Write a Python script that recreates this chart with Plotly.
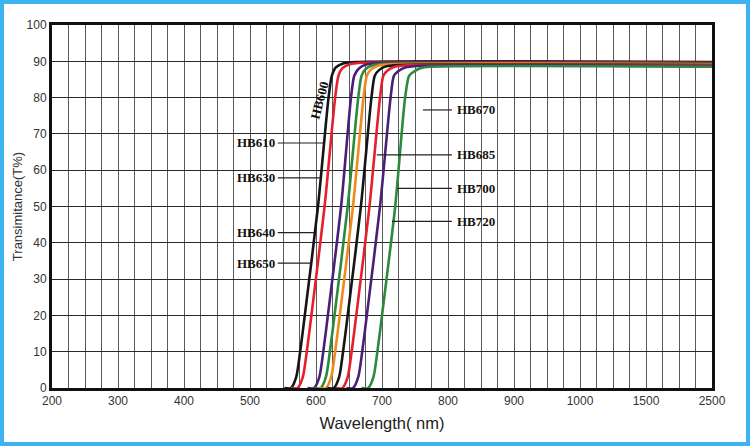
import numpy as np
import plotly.graph_objects as go

# x axis: evenly spaced ticks, not a linear nm scale past 1000
tick_nm = [200, 300, 400, 500, 600, 700, 800, 900, 1000, 1500, 2500]
tick_labels = [str(v) for v in tick_nm]

# transmittance levels shared by every curve (flat foot, then the rise)
levels_low = [0, 0, 3, 10, 20, 50, 80, 86]

names = ["HB600", "HB610", "HB630", "HB640", "HB650", "HB670", "HB685", "HB700", "HB720"]
colors = ["#151515", "#e3202b", "#4a1f78", "#2b8a3c", "#f08a1c",
          "#151515", "#e3202b", "#4a1f78", "#2b8a3c"]
plateaus = [89.8, 89.6, 89.5, 89.3, 89.2, 89.0, 88.9, 88.7, 88.5]

# wavelength (nm) where each curve reaches the levels above, then the knee
wl_hb600 = [552, 562, 570, 576, 583, 603, 619, 624, 630, 641, 661, 2500]
wl_hb610 = [562, 572, 580, 586, 593, 613, 629, 634, 640, 651, 671, 2500]
wl_hb630 = [587, 597, 605, 611, 618, 638, 653, 658, 665, 676, 696, 2500]
wl_hb640 = [597, 607, 615, 621, 628, 648, 664, 669, 675, 686, 706, 2500]
wl_hb650 = [605, 615, 623, 629, 636, 656, 672, 677, 683, 694, 714, 2500]
wl_hb670 = [617, 627, 635, 641, 648, 668, 684, 689, 695, 706, 726, 2500]
wl_hb685 = [630, 640, 648, 654, 661, 681, 697, 702, 708, 719, 739, 2500]
wl_hb700 = [646, 656, 664, 670, 677, 697, 713, 718, 724, 735, 755, 2500]
wl_hb720 = [669, 679, 687, 693, 700, 720, 735, 741, 747, 758, 774, 2500]
wavelengths = [wl_hb600, wl_hb610, wl_hb630, wl_hb640, wl_hb650,
               wl_hb670, wl_hb685, wl_hb700, wl_hb720]


def to_axis(nm):
    return np.interp(nm, tick_nm, np.arange(len(tick_nm)))


fig = go.Figure()

for name, col, wl, top in zip(names, colors, wavelengths, plateaus):
    t = levels_low + [top - 1.5, top - 0.4, top, top]
    fig.add_trace(go.Scatter(
        x=to_axis(wl), y=t, mode="lines", name=name,
        line=dict(color=col, width=2.6, shape="spline", smoothing=0.7),
        showlegend=False, hoverinfo="skip",
    ))

# labels: (text, T%, leader end / start nm)
left_labels = [("HB610", 67.5, 610.6), ("HB630", 57.9, 606.8),
               ("HB640", 42.8, 597.7), ("HB650", 34.4, 592.1)]
right_labels = [("HB670", 76.6, 762), ("HB685", 64.2, 692),
                ("HB700", 55.0, 723), ("HB720", 45.9, 715)]

lab_font = dict(family="Liberation Serif", size=13, color="#111")
annotations = []
shapes = []
for txt, yv, end in left_labels:
    annotations.append(dict(x=to_axis(509), y=yv, text="<b>%s</b>" % txt,
                            showarrow=False, font=lab_font))
    shapes.append(dict(type="line", x0=to_axis(542), x1=to_axis(end), y0=yv, y1=yv,
                       line=dict(color="#222", width=1.2)))
for txt, yv, start in right_labels:
    annotations.append(dict(x=to_axis(843), y=yv, text="<b>%s</b>" % txt,
                            showarrow=False, font=lab_font))
    shapes.append(dict(type="line", x0=to_axis(start), x1=to_axis(806), y0=yv, y1=yv,
                       line=dict(color="#222", width=1.2)))
annotations.append(dict(x=to_axis(605), y=79.3, text="<b>HB600</b>", textangle=-75,
                        showarrow=False, font=lab_font))

# light blue frame round the whole picture
shapes.append(dict(type="rect", xref="paper", yref="paper",
                   x0=-50 / 660, x1=696 / 660, y0=-56 / 363, y1=386 / 363,
                   line=dict(color="#3db4ef", width=4)))

fig.update_layout(
    width=750, height=446,
    margin=dict(l=52, r=38, t=25, b=58),
    paper_bgcolor="white", plot_bgcolor="white",
    annotations=annotations, shapes=shapes,
    font=dict(family="Liberation Sans", color="#333"),
    xaxis=dict(
        range=[0, 10], tickmode="array",
        tickvals=list(range(len(tick_nm))), ticktext=tick_labels,
        showgrid=True, gridcolor="#5a5a5a", gridwidth=1.3,
        minor=dict(tick0=0, dtick=0.25, showgrid=True, gridcolor="#5a5a5a", gridwidth=1.3),
        showline=True, linecolor="#111", linewidth=3, mirror=True,
        zeroline=False, ticks="", tickfont=dict(size=12, color="#333"),
        title=dict(text="Wavelength( nm)", font=dict(size=16.5, color="#222"), standoff=11),
    ),
    yaxis=dict(
        range=[0, 100], dtick=10,
        showgrid=True, gridcolor="#2a2a2a", gridwidth=1.2,
        showline=True, linecolor="#111", linewidth=3, mirror=True,
        zeroline=False, ticks="", tickfont=dict(size=12, color="#333"),
        title=dict(text="Transimitance(T%)", font=dict(size=13, color="#333"), standoff=2),
    ),
)

fig.write_html("out.html", config={"displayModeBar": False},
               post_script="document.body.style.margin='0';")
